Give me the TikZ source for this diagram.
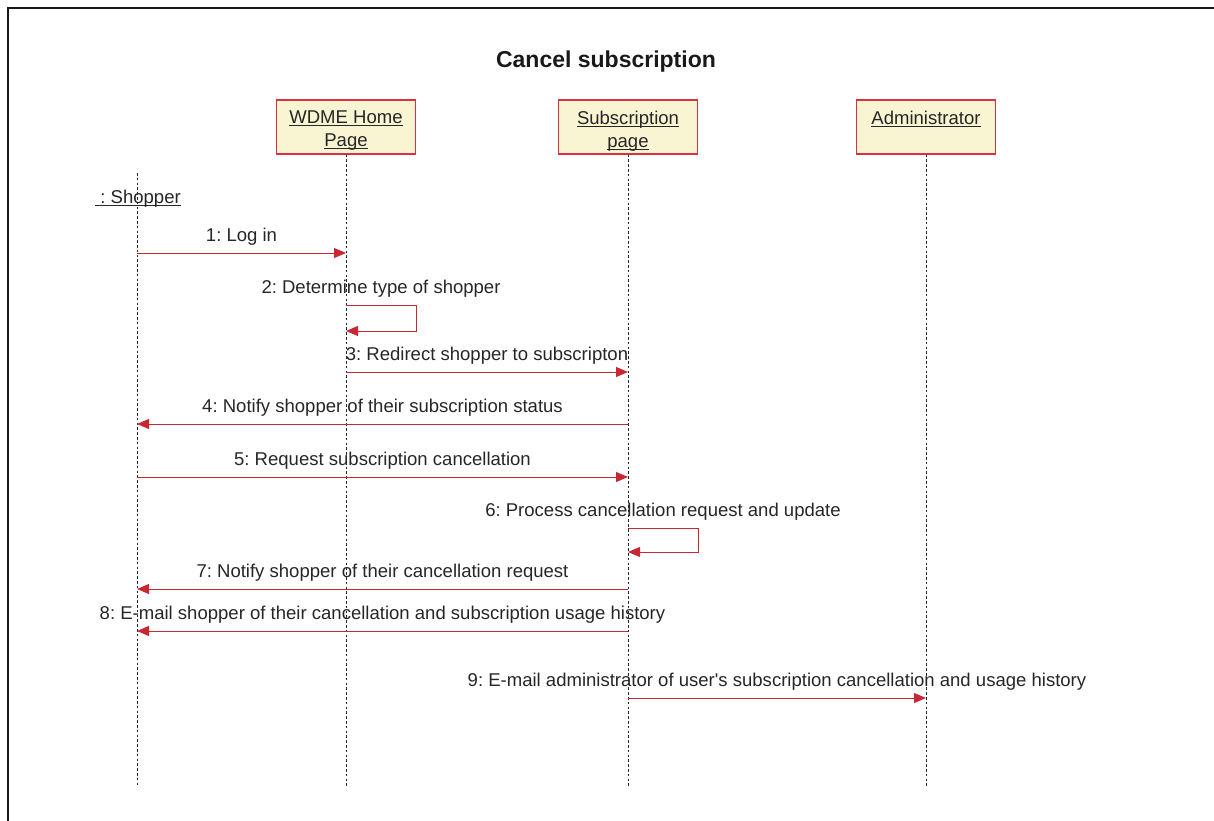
\documentclass[tikz,border=0pt]{standalone}
\usepackage{fontspec}
\setmainfont{Liberation Sans}
\usetikzlibrary{arrows.meta}
\frenchspacing
\newcommand\myul[1]{\underline{\raisebox{0pt}[\height][0pt]{#1}}}
\definecolor{msgred}{RGB}{200,40,52}
\definecolor{boxfill}{RGB}{249,244,210}
\definecolor{boxline}{RGB}{215,50,65}
\tikzset{
  obj/.style={draw=boxline, line width=0.9pt, fill=boxfill, minimum width=104.25pt, minimum height=40.5pt, inner sep=0pt},
  objtext/.style={text=black!85, align=center, inner sep=0pt, anchor=north},
  life/.style={black!85, line width=0.6pt, dash pattern=on 2pt off 1.6pt},
  msg/.style={msgred, line width=0.75pt, -{Triangle[length=9pt,width=7.5pt]}},
  lbl/.style={text=black!85, anchor=base, yshift=9pt, inner sep=0pt}
}
\begin{document}
\begin{tikzpicture}[x=0.75pt,y=-0.75pt,font=\fontsize{13.9}{17.25}\selectfont]
\useasboundingbox (0,0) rectangle (1214,821);
\draw[line width=1.8pt, black!90] (8,821) -- (8,8) -- (1214,8);
\node[font=\bfseries\fontsize{17.25}{20}\selectfont, text=black!90] (title) at (606,62) {Cancel subscription};
% objects
\node[obj, label={[objtext, yshift=-8.3pt]north:\myul{WDME Home}\\\myul{Page}}] (wdme) at (346,127) {};
\node[obj, label={[objtext, yshift=-8.3pt]north:\myul{Subscription}\\\myul{page}}] (subs) at (628,127) {};
\node[obj, label={[objtext, yshift=-8.3pt]north:\myul{Administrator}}] (admin) at (926,127) {};
\node[text=black!85, inner sep=0pt] (shopper) at (138,198) {\myul{\ :\ Shopper}};
% lifelines
\coordinate (shopTop) at (137,173);
\coordinate (shopEnd) at (137,787);
\coordinate (wdmeEnd) at (346,787);
\coordinate (subsEnd) at (628,787);
\coordinate (adminEnd) at (926,787);
\draw[life] (shopTop) -- (shopEnd);
\draw[life] (wdme.south) -- (wdmeEnd);
\draw[life] (subs.south) -- (subsEnd);
\draw[life] (admin.south) -- (adminEnd);
% message levels
\coordinate (m1) at (0,253);
\coordinate (m2a) at (0,305);
\coordinate (m2b) at (0,331);
\coordinate (m3) at (0,372);
\coordinate (m4) at (0,424);
\coordinate (m5) at (0,477);
\coordinate (m6a) at (0,528);
\coordinate (m6b) at (0,552);
\coordinate (m7) at (0,589);
\coordinate (m8) at (0,631);
\coordinate (m9) at (0,698);
% messages
\draw[msg] (shopTop|-m1) -- (wdme|-m1) node[lbl, midway] {1: Log in};
\draw[msg] (wdme|-m2a) -- ++(70,0) node[lbl, midway] {2: Determine type of shopper} |- (wdme|-m2b);
\draw[msg] (wdme|-m3) -- (subs|-m3) node[lbl, midway] {3: Redirect shopper to subscripton};
\draw[msg] (subs|-m4) -- (shopTop|-m4) node[lbl, midway] {4: Notify shopper of their subscription status};
\draw[msg] (shopTop|-m5) -- (subs|-m5) node[lbl, midway] {5: Request subscription cancellation};
\draw[msg] (subs|-m6a) -- ++(70,0) node[lbl, midway] {6: Process cancellation request and update} |- (subs|-m6b);
\draw[msg] (subs|-m7) -- (shopTop|-m7) node[lbl, midway] {7: Notify shopper of their cancellation request};
\draw[msg] (subs|-m8) -- (shopTop|-m8) node[lbl, midway] {8: E-mail shopper of their cancellation and subscription usage history};
\draw[msg] (subs|-m9) -- (admin|-m9) node[lbl, midway] {9: E-mail administrator of user\textquotesingle s subscription cancellation and usage history};
\end{tikzpicture}
\end{document}
